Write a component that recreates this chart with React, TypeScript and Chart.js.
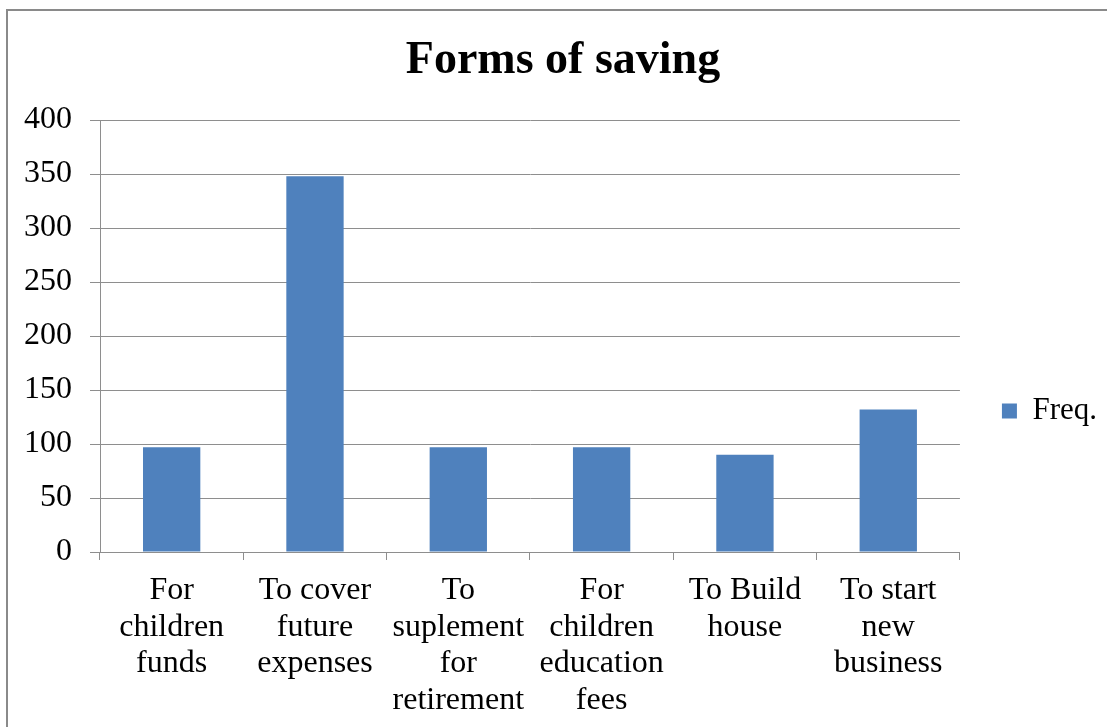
import React, { useEffect, useRef } from "react";
import { Chart, registerables } from "chart.js";

Chart.register(...registerables);

const titleText = "Forms of saving";
const seriesLabel = "Freq.";
const categories: string[][] = [
  ["For", "children", "funds"],
  ["To cover", "future", "expenses"],
  ["To", "suplement", "for", "retirement"],
  ["For", "children", "education", "fees"],
  ["To Build", "house"],
  ["To start", "new", "business"],
];
const freqValues: number[] = [97, 348, 97, 97, 90, 132];
const yMin = 0;
const yMax = 400;
const yStep = 50;

const FONT = "'Liberation Serif', 'Times New Roman', serif";
const GRID = "#8e8e8e";
const BAR = "#4f81bd";

const framePlugin = {
  id: "frame",
  beforeDraw(chart: any) {
    const ctx = chart.ctx;
    ctx.save();
    ctx.fillStyle = "#ffffff";
    ctx.fillRect(0, 0, chart.width, chart.height);
    ctx.fillStyle = "#8a8a8a";
    ctx.fillRect(6, 9, chart.width - 6, 2);
    ctx.fillRect(6, 9, 2, chart.height - 9);
    ctx.restore();
  },
};

export default function App() {
  const ref = useRef<HTMLCanvasElement | null>(null);
  useEffect(() => {
    if (!ref.current) return;
    const chart = new Chart(ref.current, {
      type: "bar",
      data: {
        labels: categories,
        datasets: [
          {
            label: seriesLabel,
            data: freqValues,
            backgroundColor: BAR,
            borderWidth: 0,
            barPercentage: 0.4,
            categoryPercentage: 1,
          },
        ],
      },
      options: {
        responsive: false,
        animation: false,
        layout: { padding: { left: 19, right: 0, top: 0, bottom: 0 } },
        plugins: {
          title: {
            display: true,
            text: titleText,
            color: "#000",
            font: { family: FONT, size: 46, weight: "bold", lineHeight: 1.2 },
            padding: { top: 33.4, bottom: 31.4 },
          },
          legend: {
            display: true,
            position: "right",
            align: "center",
            fullSize: true,
            title: {
              display: true,
              text: "",
              padding: { top: 94, bottom: 0 },
              font: { size: 1, lineHeight: 1 },
            },
            labels: {
              boxWidth: 15,
              boxHeight: 15,
              padding: 42,
              color: "#000",
              font: { family: FONT, size: 31 },
            },
          },
          tooltip: { enabled: false },
        },
        scales: {
          x: {
            afterFit: (scale: any) => {
              scale.height = 175;
            },
            offset: true,
            grid: {
              offset: true,
              drawOnChartArea: false,
              drawTicks: true,
              tickLength: 8,
              color: GRID,
              lineWidth: 1,
            },
            border: { display: true, color: GRID, width: 1 },
            ticks: {
              color: "#000",
              font: { family: FONT, size: 32, lineHeight: 1.15 },
              padding: 12,
              maxRotation: 0,
              minRotation: 0,
              autoSkip: false,
            },
          },
          y: {
            afterFit: (scale: any) => {
              scale.width = 81;
            },
            min: yMin,
            max: yMax,
            grid: {
              color: GRID,
              lineWidth: 1,
              drawTicks: true,
              tickLength: 10,
            },
            border: { display: true, color: GRID, width: 1 },
            ticks: {
              stepSize: yStep,
              color: "#000",
              font: { family: FONT, size: 32 },
              padding: 18,
            },
          },
        },
      },
      plugins: [framePlugin],
    });
    return () => chart.destroy();
  }, []);

  return (
    <div style={{ position: "fixed", left: 0, top: 0, width: 1107, height: 727, background: "#fff" }}>
      <canvas ref={ref} width={1107} height={727} style={{ display: "block" }} />
    </div>
  );
}
